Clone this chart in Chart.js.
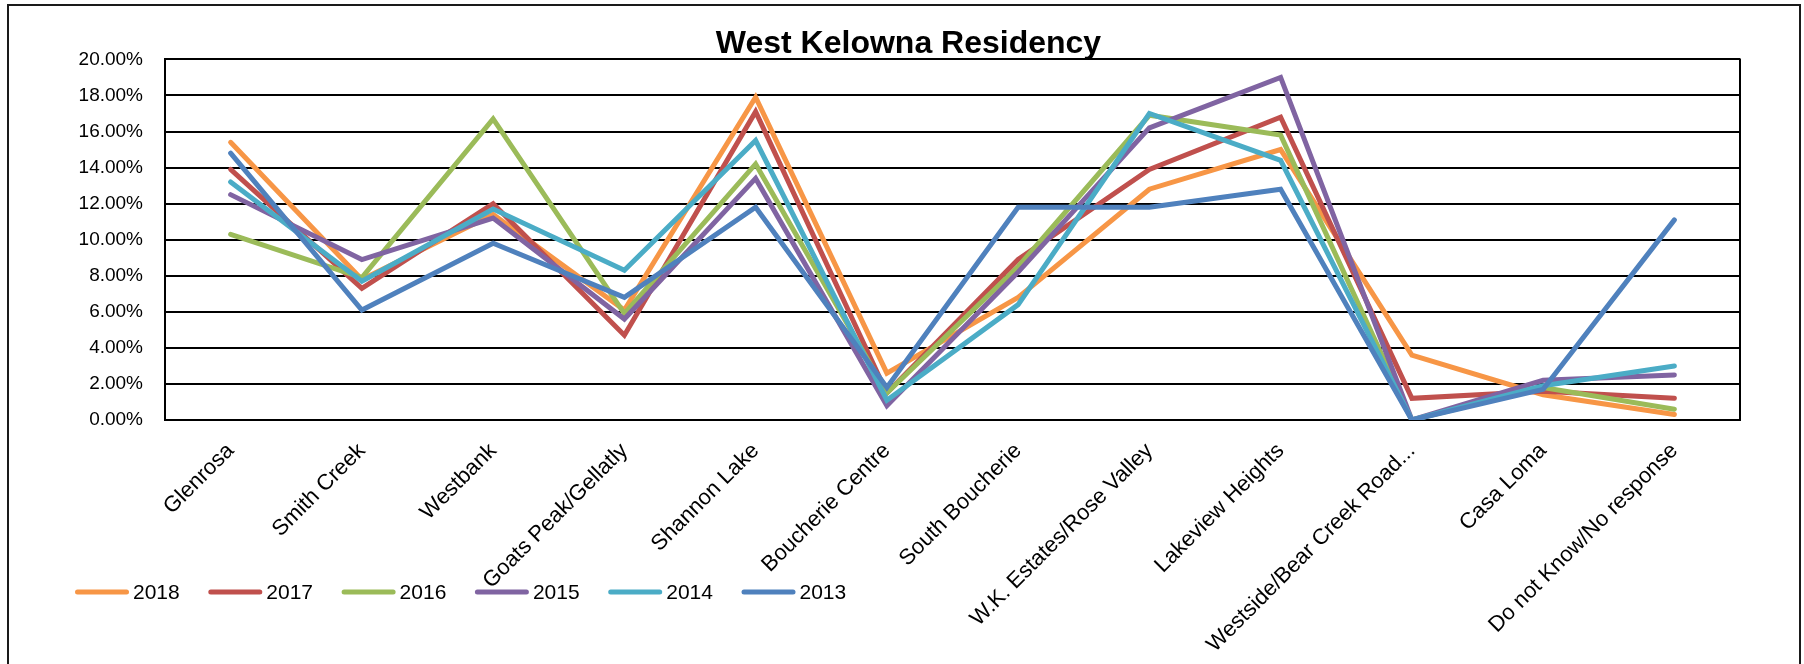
<!DOCTYPE html>
<html>
<head>
<meta charset="utf-8">
<script src="https://cdn.jsdelivr.net/npm/chart.js@4.4.1/dist/chart.umd.min.js"></script>
<style>
  html, body { margin: 0; padding: 0; background: #ffffff; }
  #wrap { position: relative; width: 1804px; height: 664px; overflow: hidden; }
  canvas { display: block; }
</style>
</head>
<body>
<div id="wrap"><canvas id="c" width="1804" height="664"></canvas></div>
<script>
// ---- data (percent) ----
const categories = [
  'Glenrosa', 'Smith Creek', 'Westbank', 'Goats Peak/Gellatly', 'Shannon Lake',
  'Boucherie Centre', 'South Boucherie', 'W.K. Estates/Rose Valley', 'Lakeview Heights',
  'Westside/Bear Creek Road...', 'Casa Loma', 'Do not Know/No response'
];
const seriesNames = ['2018', '2017', '2016', '2015', '2014', '2013'];
const values2018 = [15.4, 7.8, 11.4, 6.1, 17.9, 2.6, 6.8, 12.8, 15.0, 3.6, 1.4, 0.3];
const values2017 = [13.9, 7.3, 12.0, 4.7, 17.1, 1.5, 8.9, 13.9, 16.8, 1.2, 1.6, 1.2];
const values2016 = [10.3, 7.9, 16.7, 5.9, 14.2, 1.5, 8.5, 16.9, 15.8, 0.0, 1.8, 0.6];
const values2015 = [12.5, 8.9, 11.2, 5.6, 13.4, 0.8, 8.2, 16.2, 19.0, 0.0, 2.2, 2.5];
const values2014 = [13.2, 7.7, 11.7, 8.3, 15.5, 1.1, 6.4, 17.0, 14.4, 0.0, 1.9, 3.0];
const values2013 = [14.8, 6.1, 9.8, 6.8, 11.8, 1.8, 11.8, 11.8, 12.8, 0.0, 1.7, 11.1];
const yTicks = [0, 2, 4, 6, 8, 10, 12, 14, 16, 18, 20];
const chartTitle = 'West Kelowna Residency';

// ---- styles ----
const colors = ['#F79646', '#C0504D', '#9BBB59', '#8064A2', '#4BACC6', '#4F81BD'];
const allValues = [values2018, values2017, values2016, values2015, values2014, values2013];
const FONT = "'Liberation Sans', Arial, sans-serif";

const datasets = seriesNames.map((name, i) => ({
  label: name,
  data: allValues[i],
  yAxisID: 'y',
  borderColor: colors[i],
  backgroundColor: colors[i],
  borderWidth: 5,
  pointRadius: 0,
  pointHoverRadius: 0,
  tension: 0,
  fill: false,
  borderCapStyle: 'round',
  borderJoinStyle: 'miter',
  order: seriesNames.length - 1 - i   // later series drawn on top, like the original
}));

const frame = {
  id: 'frame',
  beforeDraw(chart) {
    const ctx = chart.ctx;
    ctx.save();
    ctx.fillStyle = '#ffffff';
    ctx.fillRect(0, 0, chart.width, chart.height);
    ctx.strokeStyle = '#1a1a1a';
    ctx.lineWidth = 2;
    ctx.strokeRect(8, 5, 1792, 800);
    ctx.restore();
  },
  beforeDatasetsDraw(chart) {
    const a = chart.chartArea, ctx = chart.ctx;
    ctx.save();
    ctx.strokeStyle = '#000';
    ctx.lineWidth = 2;
    ctx.beginPath();
    ctx.moveTo(a.right, a.top - 1);
    ctx.lineTo(a.right, a.bottom + 1);
    ctx.stroke();
    ctx.restore();
  },
  afterDraw(chart) {
    // legend, drawn from the datasets
    const ctx = chart.ctx;
    ctx.save();
    ctx.font = '21px ' + FONT;
    ctx.textBaseline = 'middle';
    ctx.textAlign = 'left';
    const y = 592, x0 = 75, step = 133.3, len = 54;
    chart.data.datasets.forEach((ds, i) => {
      const x = x0 + i * step;
      ctx.strokeStyle = ds.borderColor;
      ctx.lineWidth = 5;
      ctx.lineCap = 'round';
      ctx.beginPath();
      ctx.moveTo(x + 2.5, y);
      ctx.lineTo(x + len - 2.5, y);
      ctx.stroke();
      ctx.fillStyle = '#000';
      ctx.fillText(ds.label, x + len + 4, y + 1);
    });
    ctx.restore();
  }
};

new Chart(document.getElementById('c'), {
  type: 'line',
  data: { labels: categories, datasets },
  options: {
    responsive: false,
    animation: false,
    devicePixelRatio: 1,
    layout: { padding: { left: 13, right: 0, top: 0, bottom: 0 } },
    plugins: {
      legend: { display: false },
      tooltip: { enabled: false },
      title: {
        display: true,
        text: chartTitle,
        color: '#000',
        font: { family: FONT, size: 32, weight: 'bold', lineHeight: 0.95 },
        padding: { top: 29, bottom: 0 }
      }
    },
    scales: {
      x: {
        offset: true,
        grid: { display: false, drawTicks: false },
        border: { display: true, color: '#000', width: 2 },
        ticks: {
          autoSkip: false,
          maxRotation: 45,
          minRotation: 45,
          padding: 18,
          color: '#000',
          font: { family: FONT, size: 22 }
        },
        afterFit(scale) { scale.height = 244; }
      },
      y: {
        min: 0,
        max: 20,
        afterBuildTicks(scale) { scale.ticks = yTicks.map(v => ({ value: v })); },
        grid: { color: '#000', lineWidth: 2, drawTicks: false },
        border: { display: true, color: '#000', width: 2 },
        ticks: {
          padding: 22,
          color: '#000',
          font: { family: FONT, size: 19 },
          callback: v => Number(v).toFixed(2) + '%'
        },
        afterFit(scale) { scale.width = 152; }
      },
      yRight: {
        position: 'right',
        min: 0,
        max: 20,
        grid: { display: false, drawTicks: false },
        border: { display: false },
        ticks: { display: false },
        afterFit(scale) { scale.width = 64; }
      }
    }
  },
  plugins: [frame]
});
</script>
</body>
</html>
